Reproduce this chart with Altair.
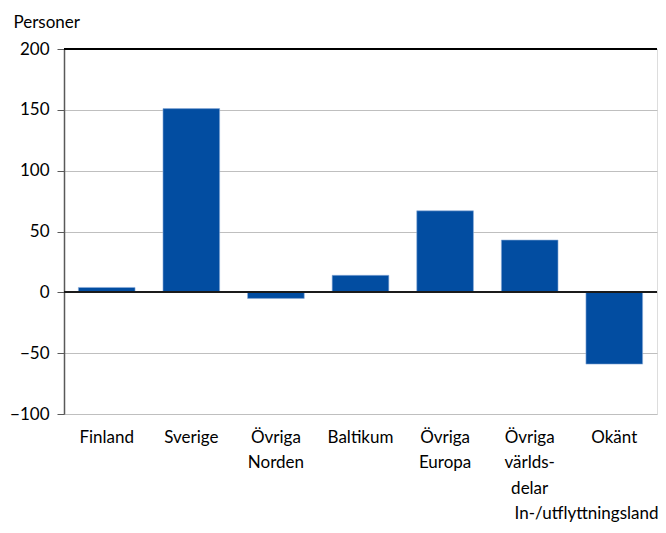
import altair as alt
import pandas as pd

categories = ["Finland", "Sverige", "Övriga|Norden", "Baltikum", "Övriga|Europa", "Övriga|världs-|delar", "Okänt"]
values = [4, 151, -5, 14, 67, 43, -59]
y_ticks = [-100, -50, 0, 50, 100, 150, 200]

df = pd.DataFrame({"land": categories, "personer": values})

FONT = "Lato"
W, H = 593, 365

x_enc = alt.X(
    "land:N",
    sort=categories,
    scale=alt.Scale(paddingInner=0.33, paddingOuter=0.17),
    axis=alt.Axis(
        title="In-/utflyttningsland",
        titleFont=FONT, titleFontSize=17, titleFontWeight="normal", titleColor="#000000",
        titleAnchor="end", titleAlign="right", titleBaseline="middle",
        titleX=W + 1, titleY=99, titleAngle=0,
        labelExpr="split(datum.label, '|')",
        labelFont=FONT, labelFontSize=17, labelColor="#000000",
        labelAngle=0, labelPadding=15, labelLineHeight=25.5, labelBaseline="top",
        ticks=False, domain=False, grid=False,
    ),
)

y_scale = alt.Scale(domain=[-100, 200], nice=False)
y_enc = alt.Y(
    "personer:Q",
    scale=y_scale,
    axis=alt.Axis(
        title="Personer",
        titleFont=FONT, titleFontSize=17, titleFontWeight="normal", titleColor="#000000",
        titleAngle=0, titleAlign="left", titleBaseline="middle",
        titleX=-51, titleY=-27,
        values=y_ticks,
        labelFont=FONT, labelFontSize=17, labelColor="#000000",
        labelPadding=8,
        tickSize=7, tickColor="#595959",
        domainColor="#595959", domainWidth=1.5,
        gridColor="#BFBFBF", gridWidth=1.2,
    ),
)

bars = alt.Chart(df).mark_bar(color="#024DA1", stroke="#8FAEDA", strokeWidth=0.6).encode(x=x_enc, y=y_enc)

zero = alt.Chart(df).mark_rule(color="#1a1a1a", strokeWidth=1.5).encode(y=alt.datum(0, scale=y_scale))
top = alt.Chart(df).mark_rule(color="#000000", strokeWidth=1.5).encode(y=alt.datum(200, scale=y_scale))

chart = alt.layer(bars, zero, top).properties(
    width=W, height=H,
    autosize=alt.AutoSizeParams(type="none"),
    padding={"left": 56, "top": 41, "right": 1, "bottom": 108},
).configure_view(
    stroke="#868686", strokeWidth=1.5
).configure(background="white")

chart.save("out.html", embed_options={"renderer": "svg", "actions": False})
